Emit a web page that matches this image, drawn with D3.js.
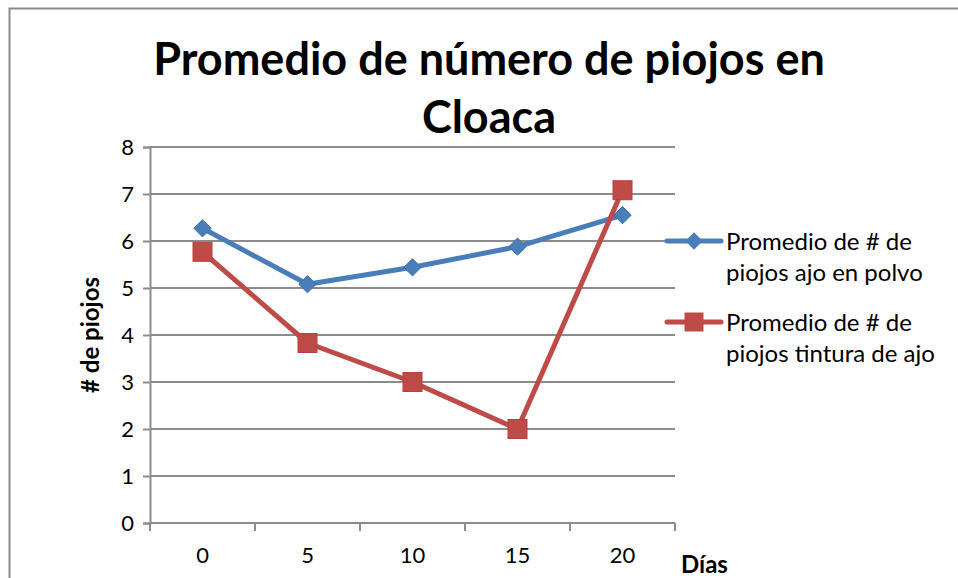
<!DOCTYPE html>
<html>
<head>
<meta charset="utf-8">
<script src="https://cdn.jsdelivr.net/npm/d3@7"></script>
<style>
  body { margin: 0; background: #fff; }
  svg { display: block; font-family: Lato, "Open Sans", sans-serif; }
</style>
</head>
<body>
<div id="chart"></div>
<script>
const width = 958;
const height = 578;

const days = ['0', '5', '10', '15', '20'];
const polvo = [6.27, 5.08, 5.44, 5.88, 6.55];
const tintura = [5.77, 3.83, 3.0, 2.0, 7.08];
const yTicks = [0, 1, 2, 3, 4, 5, 6, 7, 8];
const seriesNames = [
    ['Promedio de # de', 'piojos ajo en polvo'],
    ['Promedio de # de', 'piojos tintura de ajo']
];
const colors = ['#4a7ebb', '#be4b48'];

const margin = { top: 147, right: 283, bottom: 55, left: 150 };

buildChart();

function buildChart() {

    const svg = d3.select('#chart')
        .append('svg')
        .attr('width', width)
        .attr('height', height);

    // chart frame
    svg.append('rect')
        .attr('x', 9.5)
        .attr('y', 8.5)
        .attr('width', width + 20)
        .attr('height', height + 20)
        .attr('fill', '#fff')
        .attr('stroke', '#8a8a8a')
        .attr('stroke-width', 2);

    const x = d3.scaleBand()
        .domain(days)
        .range([margin.left, width - margin.right]);

    const y = d3.scaleLinear()
        .domain([0, 8])
        .range([height - margin.bottom, margin.top]);

    // gridlines
    svg.append('g')
        .selectAll('line')
        .data(yTicks.slice(1))
        .enter()
        .append('line')
        .attr('x1', margin.left)
        .attr('x2', x.range()[1])
        .attr('y1', d => y(d))
        .attr('y2', d => y(d))
        .attr('stroke', '#8c8c8c')
        .attr('stroke-width', 2);

    // y axis
    const yAxis = svg.append('g')
        .attr('transform', `translate(${margin.left}, 0)`)
        .call(d3.axisLeft(y).tickValues(yTicks).tickSize(7).tickPadding(9).tickFormat(d3.format('d')));

    // x axis
    const xAxis = svg.append('g')
        .attr('transform', `translate(0, ${y(0)})`)
        .call(d3.axisBottom(x).tickSize(0).tickPadding(24));

    [yAxis, xAxis].forEach(a => {
        a.select('.domain').attr('stroke', '#8c8c8c').attr('stroke-width', 2);
        a.selectAll('.tick line').attr('stroke', '#8c8c8c').attr('stroke-width', 2);
        a.selectAll('text')
            .attr('font-size', 22)
            .attr('fill', '#000')
            .attr('font-family', 'Lato, "Open Sans", sans-serif');
    });
    xAxis.select('.domain').attr('d', `M${x.range()[0]},0H${x.range()[1]}`);

    // x ticks between categories
    const bounds = days.map(d => x(d)).concat([x.range()[1]]);
    xAxis.append('g')
        .selectAll('line')
        .data(bounds)
        .enter()
        .append('line')
        .attr('x1', d => d)
        .attr('x2', d => d)
        .attr('y1', 0)
        .attr('y2', 8)
        .attr('stroke', '#8c8c8c')
        .attr('stroke-width', 2);

    const cx = d => x(d) + x.bandwidth() / 2;

    const line = d3.line()
        .x((d, i) => cx(days[i]))
        .y(d => y(d));

    const seriesData = [polvo, tintura];

    seriesData.forEach((vals, si) => {
        svg.append('path')
            .datum(vals)
            .attr('d', line)
            .attr('fill', 'none')
            .attr('stroke', colors[si])
            .attr('stroke-width', 5)
            .attr('stroke-linejoin', 'round');
    });

    // markers
    const diamond = d3.symbol().type(d3.symbolDiamond2).size(190);
    svg.append('g')
        .selectAll('path')
        .data(polvo)
        .enter()
        .append('path')
        .attr('d', diamond)
        .attr('transform', (d, i) => `translate(${cx(days[i])}, ${y(d)})`)
        .attr('fill', colors[0])
        .attr('stroke', '#3f70ab')
        .attr('stroke-width', 1);

    svg.append('g')
        .selectAll('rect')
        .data(tintura)
        .enter()
        .append('rect')
        .attr('x', (d, i) => cx(days[i]) - 9.5)
        .attr('y', d => y(d) - 9.5)
        .attr('width', 19)
        .attr('height', 19)
        .attr('fill', colors[1])
        .attr('stroke', '#b5413e')
        .attr('stroke-width', 1);

    // title
    const title = svg.append('text')
        .attr('text-anchor', 'middle')
        .attr('font-size', 45)
        .attr('font-weight', 'bold')
        .attr('fill', '#000');
    title.append('tspan').attr('x', 489).attr('y', 75).text('Promedio de número de piojos en');
    title.append('tspan').attr('x', 489).attr('y', 133).text('Cloaca');

    // axis titles
    svg.append('text')
        .attr('transform', 'translate(99, 335) rotate(-90)')
        .attr('text-anchor', 'middle')
        .attr('font-size', 24)
        .attr('font-weight', 'bold')
        .attr('fill', '#000')
        .text('# de piojos');

    svg.append('text')
        .attr('x', 681)
        .attr('y', 573)
        .attr('font-size', 24)
        .attr('font-weight', 'bold')
        .attr('fill', '#000')
        .text('Días');

    // legend
    const legendY = [241, 322];
    const legend = svg.append('g');
    seriesNames.forEach((lines, i) => {
        const g = legend.append('g')
            .attr('transform', `translate(0, ${legendY[i]})`);
        g.append('line')
            .attr('x1', 667)
            .attr('x2', 721)
            .attr('stroke', colors[i])
            .attr('stroke-width', 5)
            .attr('stroke-linecap', 'round');
        if (i === 0) {
            g.append('path')
                .attr('d', diamond)
                .attr('transform', 'translate(694, 0)')
                .attr('fill', colors[0]);
        } else {
            g.append('rect')
                .attr('x', 684.5)
                .attr('y', -9.5)
                .attr('width', 19)
                .attr('height', 19)
                .attr('fill', colors[1]);
        }
        const t = g.append('text')
            .attr('font-size', 24)
            .attr('fill', '#000');
        lines.forEach((s, k) => {
            t.append('tspan')
                .attr('x', 726)
                .attr('y', 9 + k * 31)
                .text(s);
        });
    });
}
</script>
</body>
</html>
